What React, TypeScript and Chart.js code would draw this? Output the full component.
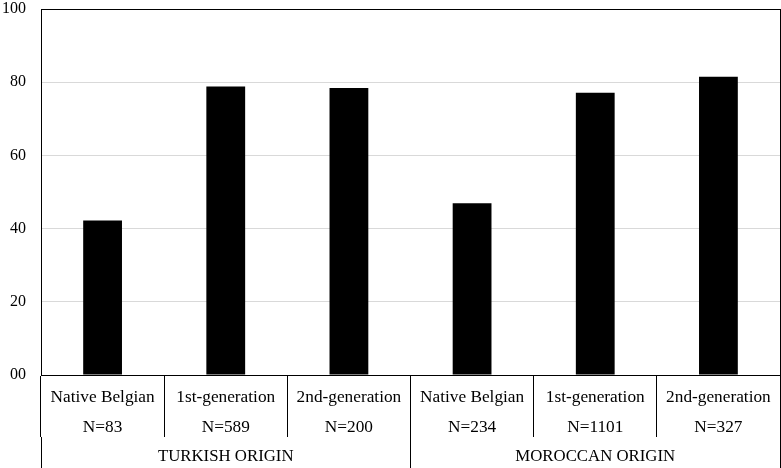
import React, { useEffect, useRef } from "react";
import { Chart, registerables } from "chart.js";

Chart.register(...registerables);

const categories = ["Native Belgian", "1st-generation", "2nd-generation", "Native Belgian", "1st-generation", "2nd-generation"];
const sampleSizes = ["N=83", "N=589", "N=200", "N=234", "N=1101", "N=327"];
const groups = ["TURKISH ORIGIN", "MOROCCAN ORIGIN"];
const values = [42.2, 78.8, 78.4, 46.9, 77.1, 81.5];
const yTickValues = [0, 20, 40, 60, 80, 100];
const yTickLabels = ["00", "20", "40", "60", "80", "100"];

const FONT = "'Liberation Serif', 'Times New Roman', serif";

const borderPlugin = {
  id: "rightBorder",
  afterDraw(chart: any) {
    const { ctx, chartArea } = chart;
    ctx.save();
    ctx.strokeStyle = "#000";
    ctx.lineWidth = 1;
    ctx.beginPath();
    ctx.moveTo(chartArea.right + 0.5, chartArea.top);
    ctx.lineTo(chartArea.right + 0.5, chartArea.bottom);
    ctx.stroke();
    ctx.restore();
  },
};

export default function App() {
  const ref = useRef<HTMLCanvasElement>(null);
  useEffect(() => {
    if (!ref.current) return;
    const chart = new Chart(ref.current, {
      type: "bar",
      data: {
        labels: categories.map((c, i) => [c, sampleSizes[i]]),
        datasets: [
          {
            data: values,
            backgroundColor: "#000",
            borderWidth: 0,
            categoryPercentage: 1,
            barPercentage: 0.315,
            xAxisID: "x",
          },
        ],
      },
      options: {
        animation: false,
        responsive: false,
        events: [],
        layout: { padding: { top: 9, right: 1, left: 0, bottom: 0 } },
        plugins: { legend: { display: false }, tooltip: { enabled: false } },
        scales: {
          y: {
            min: 0,
            max: 100,
            afterFit: (s: any) => {
              s.width = 41;
              s.paddingTop = 0;
              s.paddingBottom = 0;
            },
            afterBuildTicks: (s: any) => { s.ticks = yTickValues.map((v) => ({ value: v })); },
            ticks: {
              color: "#000",
              font: { family: FONT, size: 16 },
              padding: 15,
              callback: (v: any) => {
                const i = yTickValues.indexOf(Number(v));
                return i >= 0 ? yTickLabels[i] : "";
              },
            },
            grid: {
              drawTicks: false,
              color: (ctx: any) => (ctx.tick && ctx.tick.value === 100 ? "#000" : "#d9d9d9"),
            },
            border: { display: true, color: "#000", width: 1 },
          },
          x: {
            type: "category",
            position: "bottom",
            offset: true,
            afterFit: (s: any) => {
              s.height = 62;
              s.paddingLeft = 0;
              s.paddingRight = 0;
            },
            ticks: {
              color: "#000",
              font: { family: FONT, size: 17.3, lineHeight: 30 / 17.3 },
              padding: -55,
              autoSkip: false,
              maxRotation: 0,
              minRotation: 0,
            },
            grid: {
              offset: true,
              drawOnChartArea: false,
              drawTicks: true,
              tickLength: 62,
              color: (ctx: any) => (ctx.index >= categories.length ? "rgba(0,0,0,0)" : "#000"),
            },
            border: { display: true, color: "#000", width: 1 },
          },
          x2: {
            type: "category",
            position: "bottom",
            labels: groups,
            offset: true,
            afterFit: (s: any) => {
              s.height = 31;
              s.paddingLeft = 0;
              s.paddingRight = 0;
            },
            ticks: {
              color: "#000",
              font: { family: FONT, size: 16.8, lineHeight: 1.2 },
              padding: -21,
              autoSkip: false,
              maxRotation: 0,
              minRotation: 0,
            },
            grid: {
              offset: true,
              drawOnChartArea: false,
              drawTicks: true,
              tickLength: 31,
              color: (ctx: any) => (ctx.index >= groups.length ? "rgba(0,0,0,0)" : "#000"),
            },
            border: { display: false },
          },
        },
      } as any,
      plugins: [borderPlugin],
    });
    return () => chart.destroy();
  }, []);
  return (
    <div style={{ position: "absolute", left: 0, top: 0, width: 781, height: 468, background: "#fff" }}>
      <canvas ref={ref} width={781} height={468} />
    </div>
  );
}
